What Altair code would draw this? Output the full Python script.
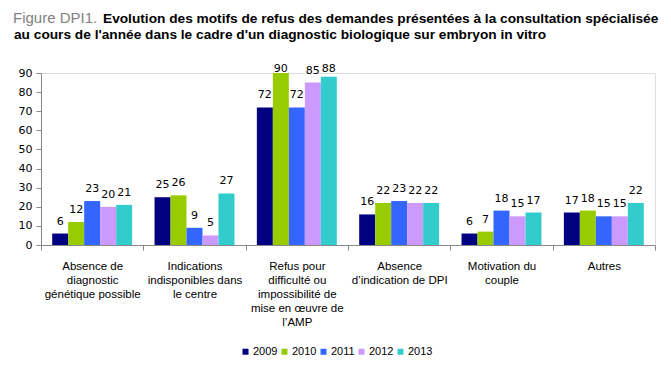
import altair as alt
import pandas as pd

categories = [
    "Absence de|diagnostic|génétique possible",
    "Indications|indisponibles dans|le centre",
    "Refus pour|difficulté ou|impossibilité de|mise en œuvre de|l’AMP",
    "Absence|d’indication de DPI",
    "Motivation du|couple",
    "Autres",
]
years = ["2009", "2010", "2011", "2012", "2013"]
values = {
    "2009": [6, 25, 72, 16, 6, 17],
    "2010": [12, 26, 90, 22, 7, 18],
    "2011": [23, 9, 72, 23, 18, 15],
    "2012": [20, 5, 85, 22, 15, 15],
    "2013": [21, 27, 88, 22, 17, 22],
}
colors = ["#000080", "#99CC00", "#3366FF", "#CC99FF", "#33CCCC"]
title_gray = "Figure DPI1."
title_line1 = "Evolution des motifs de refus des demandes présentées à la consultation spécialisée"
title_line2 = "au cours de l'année dans le cadre d'un diagnostic biologique sur embryon in vitro"

rows = []
for y in years:
    for c, v in zip(categories, values[y]):
        rows.append({"cat": c, "year": y, "val": v})
df = pd.DataFrame(rows)

x_enc = alt.X(
    "cat:N",
    sort=categories,
    scale=alt.Scale(paddingInner=0, paddingOuter=0),
    axis=alt.Axis(
        title=None,
        labelAngle=0,
        labelExpr="split(datum.label, '|')",
        labelFont="Liberation Sans",
        labelFontSize=11.5,
        labelColor="#000000",
        labelLineHeight=14,
        labelPadding=10,
        labelBaseline="top",
        tickBand="extent",
        tickColor="#888888",
        tickSize=5,
        domainColor="#888888",
        labelLimit=200,
    ),
)
xoff = alt.XOffset("year:N", sort=years, scale=alt.Scale(paddingInner=0, paddingOuter=0.7))
yscale = alt.Scale(domain=[0, 90], nice=False)
yaxis = alt.Axis(
    title=None,
    values=list(range(0, 91, 10)),
    grid=False,
    labelFont="DejaVu Sans",
    labelFontSize=11,
    labelColor="#000000",
    tickColor="#888888",
    tickSize=5,
    labelPadding=4,
    domainColor="#888888",
)
y_enc = alt.Y("val:Q", scale=yscale, axis=yaxis)
color_enc = alt.Color(
    "year:N",
    sort=years,
    scale=alt.Scale(domain=years, range=colors),
    legend=alt.Legend(
        title=None,
        orient="none",
        direction="horizontal",
        legendX=199,
        legendY=273,
        symbolType="square",
        symbolSize=36,
        symbolStrokeWidth=0,
        labelFont="Liberation Sans",
        labelFontSize=11,
        labelColor="#000000",
        labelOffset=2,
        columnPadding=1,
    ),
)

bars = alt.Chart(df).mark_bar().encode(x=x_enc, xOffset=xoff, y=y_enc, color=color_enc)
labels = alt.Chart(df).transform_calculate(
    ly="min(datum.val, 86)"
).mark_text(
    dy=-7, baseline="bottom", font="DejaVu Sans", fontSize=11, color="#000000"
).encode(x=x_enc, xOffset=xoff, y=alt.Y("ly:Q", scale=yscale, axis=yaxis), text="val:Q")

t_gray = alt.Chart(pd.DataFrame({"t": [title_gray]})).mark_text(
    align="left", baseline="alphabetic", font="Liberation Sans", fontSize=15, color="#7F7F7F"
).encode(x=alt.value(-28), y=alt.value(-50), text="t:N")
t1 = alt.Chart(pd.DataFrame({"t": [title_line1]})).mark_text(
    align="left", baseline="alphabetic", font="Liberation Sans", fontSize=13.7, fontWeight="bold", color="#000000"
).encode(x=alt.value(62), y=alt.value(-50), text="t:N")
t2 = alt.Chart(pd.DataFrame({"t": [title_line2]})).mark_text(
    align="left", baseline="alphabetic", font="Liberation Sans", fontSize=13.7, fontWeight="bold", color="#000000"
).encode(x=alt.value(-27), y=alt.value(-34), text="t:N")

chart = alt.layer(bars, labels, t_gray, t1, t2).properties(
    width=614,
    height=172,
    autosize=alt.AutoSizeParams(type="none"),
    padding={"left": 33, "top": 65, "right": 8, "bottom": 117},
).configure_view(stroke=None).configure(background="#FFFFFF")

chart.save("out.html", embed_options={"renderer": "svg", "actions": False})
